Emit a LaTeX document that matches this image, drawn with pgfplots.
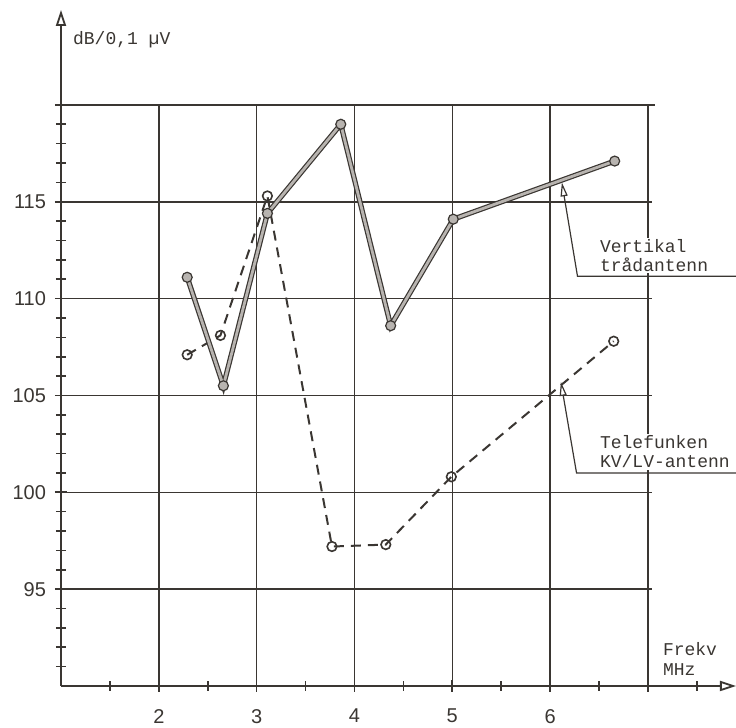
\documentclass[border=0pt]{standalone}
\usepackage{fontspec}
\setmainfont{Liberation Sans}
\setmonofont{Liberation Mono}
\usepackage{pgfplots}
\usepackage{pgfplotstable}
\pgfplotsset{compat=1.18}
\usetikzlibrary{arrows.meta}
\definecolor{ink}{HTML}{3A3632}
\definecolor{fillg}{HTML}{B8B4B0}

\pgfplotstableread{
x y
2.29 111.1
2.66 105.5
3.11 114.4
3.86 119.0
4.37 108.6
5.01 114.1
6.66 117.1
}\vertikal

\pgfplotstableread{
x y
2.29 107.1
2.63 108.1
3.11 115.3
3.77 97.2
4.32 97.3
4.99 100.8
6.65 107.8
}\telefunken

\begin{document}
\begin{tikzpicture}
\begin{axis}[
  scale only axis, width=337.5pt, height=338pt,
  xmin=1, xmax=7.9, ymin=90, ymax=124.9,
  axis x line=bottom, axis y line=left,
  axis line style={ink, line width=0.9pt, -{Triangle[open,length=8pt,width=5pt]}},
  xtick={2,3,4,5,6,7}, xticklabels={2,3,4,5,6,{}},
  minor xtick={1.5,2.5,3.5,4.5,5.5,6.5,7.5},
  ytick={95,100,105,110,115,120}, yticklabels={95,100,105,110,115,{}},
  minor ytick={91,92,93,94,96,97,98,99,101,102,103,104,106,107,108,109,111,112,113,114,116,117,118,119},
  tick align=center,
  major tick length=6pt, minor tick length=5pt,
  tick style={ink, line width=0.8pt},
  minor tick style={ink, line width=0.8pt},
  /pgf/number format/assume math mode=true,
  ticklabel style={font=\fontsize{10}{12}\selectfont, text=ink},
  xticklabel style={yshift=-5pt},
  yticklabel style={xshift=-1pt},
  clip=false,
]
% grid
\pgfplotsinvokeforeach{95,100,105,110,115}{
  \draw[ink, line width=0.75pt] (axis cs:1,#1) -- (axis cs:7.04,#1);
}
\draw[ink, line width=0.75pt] (axis cs:1,120) -- (axis cs:7.07,120);
\pgfplotsinvokeforeach{2,3,4,5,6,7}{
  \draw[ink, line width=0.75pt] (axis cs:#1,90) -- (axis cs:#1,120);
}
% annotation labels
\node[anchor=south west, fill=white, inner sep=0.8pt, align=left,
      font=\ttfamily\fontsize{9}{9.5}\selectfont, text=ink]
  at (axis cs:6.49,111.3) {Vertikal\\trådantenn};
\node[anchor=south west, fill=white, inner sep=0.8pt, align=left,
      font=\ttfamily\fontsize{9}{9.5}\selectfont, text=ink]
  at (axis cs:6.49,101.15) {Telefunken\\KV/LV-antenn};
\draw[ink, line width=0.6pt, {Triangle[open,length=7pt,width=3.5pt]}-]
  (axis cs:6.12,116.0) -- (axis cs:6.28,111.15) -- (axis cs:7.9,111.15);
\draw[ink, line width=0.6pt, {Triangle[open,length=7pt,width=3.5pt]}-]
  (axis cs:6.11,105.7) -- (axis cs:6.27,101.0) -- (axis cs:7.9,101.0);
% axis titles
\node[anchor=west, inner sep=0pt, font=\ttfamily\fontsize{9}{10}\selectfont, text=ink]
  at (axis cs:1.12,123.35) {dB/0,1 µV};
\node[anchor=north west, inner sep=0pt, align=left, font=\ttfamily\fontsize{9}{10}\selectfont, text=ink]
  at (axis cs:7.15,92.25) {Frekv\\MHz};
% data
\addplot[ink, line width=1pt, dash pattern=on 5pt off 3.5pt,
  mark=o, mark size=2.4pt, mark options={solid, fill=white, line width=0.8pt}]
  table[x=x,y=y] {\telefunken};
\addplot[draw=ink, line width=0.6pt, double=fillg, double distance=1.4pt, no marks]
  table[x=x,y=y] {\vertikal};
\addplot[only marks, mark=*, mark size=2.5pt, mark options={draw=ink, fill=fillg, line width=0.6pt}]
  table[x=x,y=y] {\vertikal};
\end{axis}
\pgfresetboundingbox
\path (-30.5pt,-21pt) rectangle (337.5pt,343pt);
\end{tikzpicture}
\end{document}
